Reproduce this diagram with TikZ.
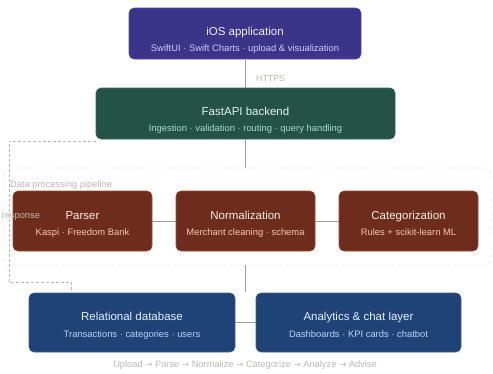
\documentclass[tikz,border=0pt]{standalone}
\usepackage{fontspec}
\setmainfont{Liberation Sans}
\newfontfamily\arrowfont{DejaVu Sans}
\usetikzlibrary{positioning}
\definecolor{purpfill}{HTML}{3C3489}
\definecolor{purpline}{HTML}{534AB7}
\definecolor{purptitle}{HTML}{EEEDFE}
\definecolor{purpsub}{HTML}{CECBF6}
\definecolor{grnfill}{HTML}{245244}
\definecolor{grnline}{HTML}{2F6B57}
\definecolor{grntitle}{HTML}{E1F5EE}
\definecolor{grnsub}{HTML}{9FE1CB}
\definecolor{brnfill}{HTML}{6E2D1C}
\definecolor{brnline}{HTML}{9A4A30}
\definecolor{brntitle}{HTML}{FAECE7}
\definecolor{brnsub}{HTML}{F5C4B3}
\definecolor{bluefill}{HTML}{1F4377}
\definecolor{blueline}{HTML}{3A6296}
\definecolor{bluetitle}{HTML}{E6F1FB}
\definecolor{bluesub}{HTML}{B5D4F4}
\definecolor{conn}{HTML}{A09E96}
\definecolor{lbl}{HTML}{BAB8B0}
\definecolor{frame}{HTML}{ECEBE6}
\tikzset{
  box/.style={rounded corners=5pt, line width=0.6pt},
  ttl/.style={font=\fontsize{11.5}{13}\selectfont, inner sep=0pt, anchor=base},
  sub/.style={font=\fontsize{9.4}{11}\selectfont, inner sep=0pt, anchor=base},
  conline/.style={draw=conn, line width=0.9pt},
  dashline/.style={draw=lbl, line width=0.8pt, dash pattern=on 3pt off 2pt},
  lbltext/.style={text=lbl, font=\fontsize{9.3}{11}\selectfont, inner sep=0pt},
}
\newcommand{\archbox}[9]{% name, x1,y1,x2,y2, colorprefix, title, sub, title baseline offset from top
  \draw[box, fill=#6fill, draw=#6line] (#2,#3) rectangle (#4,#5);
  \coordinate (#1) at ({(#2+#4)/2},{(#3+#5)/2});
  \node[ttl, text=#6title] (#1-t) at ({(#2+#4)/2},{#3+#9}) {#7};
  \node[sub, text=#6sub] (#1-s) at ({(#2+#4)/2},{#3+#9+16.5}) {#8};
}
\newcommand{\ar}{{\arrowfont\fontsize{8.6}{10}\selectfont →}}
\begin{document}
\begin{tikzpicture}[x=1pt,y=-1pt]
\useasboundingbox (0,0) rectangle (493,373);
% pipeline container
\draw[draw=frame, line width=0.7pt, dash pattern=on 4pt off 3pt, rounded corners=6pt] (3,168) rectangle (491,265);
\node[lbltext, anchor=base west] (pipelbl) at (10,187.5) {Data processing pipeline};
% boxes
\archbox{ios}{129}{8}{361}{59}{purp}{iOS application}{SwiftUI · Swift Charts · upload \& visualization}{27}
\archbox{api}{96}{88}{395}{139}{grn}{FastAPI backend}{Ingestion · validation · routing · query handling}{27}
\archbox{parser}{13}{191}{152}{251}{brn}{Parser}{Kaspi · Freedom Bank}{28}
\archbox{norm}{176}{191}{315}{251}{brn}{Normalization}{Merchant cleaning · schema}{28}
\archbox{cat}{339}{191}{478}{251}{brn}{Categorization}{Rules + scikit-learn ML}{28}
\archbox{db}{29}{293}{235}{352}{blue}{Relational database}{Transactions · categories · users}{27.5}
\archbox{ana}{256}{293}{461}{352}{blue}{Analytics \& chat layer}{Dashboards · KPI cards · chatbot}{27.5}
% connectors
\coordinate (iosB) at (245,59);
\coordinate (apiT) at (245,88);
\coordinate (apiB) at (245,139);
\coordinate (pipeT) at (245,168);
\coordinate (pipeB) at (245,265);
\coordinate (dbT) at (245,292);
\draw[conline] (iosB) -- (apiT);
\node[text=lbl, font=\fontsize{8.8}{10}\selectfont, inner sep=0pt, anchor=base west] (https) at (256,81) {HTTPS};
\draw[conline] (apiB) -- (pipeT);
\draw[conline] (parser) ++(69.5,0) -- ++(24,0);
\draw[conline] (norm) ++(69.5,0) -- ++(24,0);
\draw[conline] (pipeB) -- (dbT);
\draw[conline] (db) ++(103,0) -- ++(21,0);
% response dashed
\coordinate (respA) at (96,141);
\coordinate (respB) at (71,293);
\draw[dashline] (respA) -- (9,141) -- (9,282) -- (71,282) -- (respB);
\node[lbltext, anchor=base west] (resp) at (1.5,218.5) {response};
% caption
\node[lbltext, anchor=base] (caption) at (245,367.5) {Upload \ar{} Parse \ar{} Normalize \ar{} Categorize \ar{} Analyze \ar{} Advise};
\end{tikzpicture}
\end{document}
